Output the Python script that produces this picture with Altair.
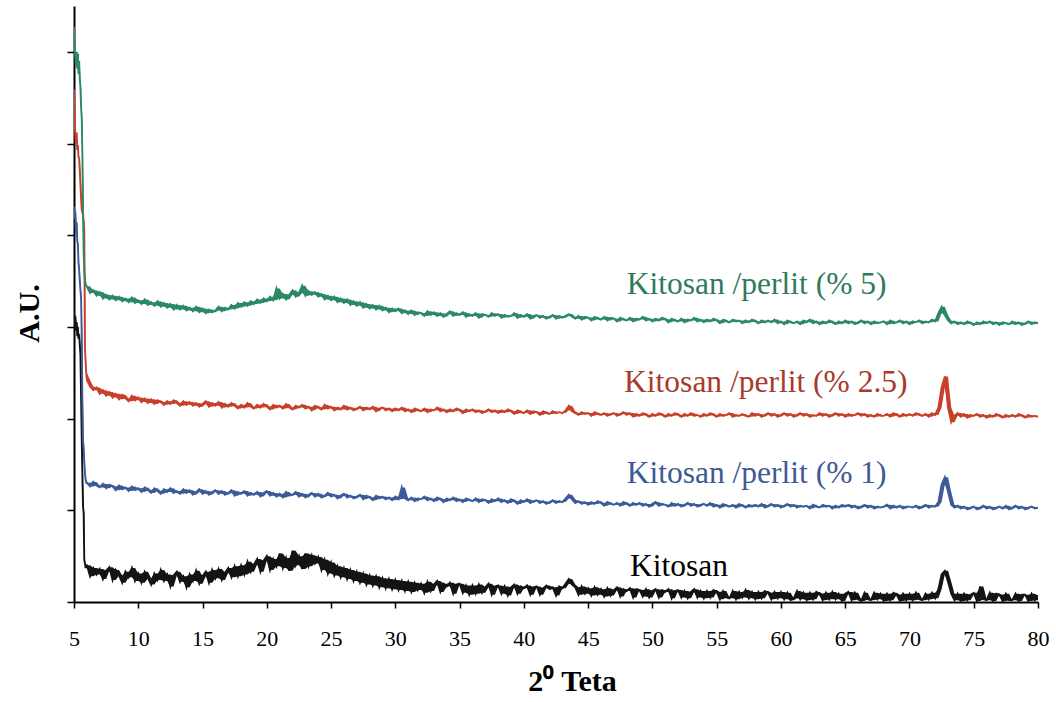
import altair as alt
import numpy as np
import pandas as pd

# Diffraction angle grid: a fine run over the low-angle peak, then 0.25 deg steps
HEAD_X = [5.00, 5.05, 5.10, 5.15, 5.20, 5.25, 5.30, 5.35, 5.40, 5.45,
          5.50, 5.55, 5.60, 5.65, 5.70, 5.75, 5.80, 5.85, 5.90, 5.95]
BODY_X = list(np.round(np.arange(6.0, 80.0001, 0.25), 2))

# Intensities (A.U.) of each pattern, before the vertical offset
KITOSAN_HEAD = [318, 300, 312, 296, 305, 290, 300, 287, 292, 280,
                270, 225, 180, 140, 105, 97, 46, 42, 37, 40]
KITOSAN_BODY = [
    40, 28, 37, 30,  36, 25, 34, 38,  24, 35, 29, 21,  33, 27, 37, 23,
    31, 21, 33, 26,  19, 31, 24, 35,  23, 30, 17, 29,  33, 22, 28, 16,
    30, 23, 34, 20,  28, 33, 21, 35,  26, 36, 24, 32,  37, 27, 39, 28,
    40, 30, 44, 33,  41, 47, 33, 45,  50, 35, 47, 39,  53, 37, 48, 34,
    56, 40, 50, 36,  53, 39, 51, 42,  49, 35, 46, 31,  43, 29, 39, 27,
    37, 25, 35, 23,  33, 21, 31, 19,  29, 18, 28, 16,  26, 15, 25, 14,
    24, 13, 23, 12,  22, 11, 21, 13,  20, 10, 22, 12,  19, 23, 11, 20,
    17, 21, 9, 19,   20, 10, 18, 8,   18, 9, 19, 10,   16, 20, 8, 17,
    18, 9, 17, 7,    16, 19, 9, 17,   15, 18, 8, 16,   17, 8, 15, 18,
    14, 16, 7, 17,   15, 20, 25, 19,  16, 8, 17, 9,    15, 7, 16, 8,
    14, 6, 15, 7,    13, 16, 6, 14,   12, 15, 5, 14,   13, 6, 14, 5,
    12, 14, 5, 13,   11, 14, 4, 12,   13, 5, 12, 4,    11, 14, 5, 12,
    4, 12, 5, 13,    11, 3, 12, 5,    4, 12, 3, 11,    5, 13, 4, 11,
    3, 11, 4, 12,    10, 3, 11, 4,    11, 3, 10, 2,    4, 12, 3, 10,
    2, 10, 3, 11,    9, 2, 10, 3,     11, 3, 9, 1,     9, 11, 2, 10,
    3, 1, 10, 3,     2, 10, 3, 9,     1, 9, 2, 10,     8, 1, 9, 2,
    9, 2, 10, 3,     2, 9, 3, 10,     4, 14, 30, 34,   22, 9, 2, 9,
    1, 9, 2, 8,      10, 1, 17, 3,    2, 10, 1, 9,     8, 1, 9, 2,
    2, 9, 1, 8,      8, 1, 9, 2,
    7,
]

PERLIT1_HEAD = [331, 318, 326, 302, 314, 294, 290, 270, 262, 250,
                240, 232, 190, 120, 77, 68, 52, 40, 34, 30]
PERLIT1_BODY = [
    30, 26, 31, 27,  25, 29, 24, 28,  26, 22, 27, 23,  25, 21, 26, 22,
    24, 20, 25, 22,  19, 24, 21, 18,  23, 20, 24, 19,  21, 18, 23, 19,
    22, 17, 20, 23,  18, 21, 17, 20,  22, 18, 21, 17,  19, 22, 16, 20,
    18, 21, 16, 19,  17, 20, 15, 19,  21, 16, 19, 15,  18, 14, 20, 16,
    17, 20, 15, 18,  14, 17, 19, 15,  18, 14, 16, 19,  15, 17, 13, 16,
    18, 14, 16, 13,  15, 17, 12, 16,  14, 11, 16, 13,  15, 12, 14, 11,
    15, 12, 25, 13,  11, 14, 10, 13,  12, 15, 11, 13,  10, 14, 12, 9,
    13, 11, 14, 10,  12, 9, 13, 11,   10, 13, 9, 12,   11, 8, 12, 10,
    13, 9, 11, 8,    12, 10, 7, 11,   9, 12, 8, 10,    11, 8, 10, 7,
    9, 11, 8, 10,    9, 13, 17, 12,   8, 10, 7, 9,     6, 9, 7, 10,
    8, 5, 9, 7,      6, 8, 5, 9,      7, 5, 8, 6,      8, 5, 7, 4,
    7, 9, 5, 7,      6, 4, 8, 5,      7, 4, 6, 8,      5, 7, 4, 6,
    7, 5, 8, 4,      6, 3, 7, 5,      4, 6, 3, 7,      5, 3, 6, 4,
    6, 4, 7, 3,      5, 7, 4, 6,      3, 5, 7, 4,      6, 3, 5, 4,
    5, 2, 6, 4,      3, 6, 4, 5,      2, 5, 3, 6,      4, 6, 3, 5,
    2, 4, 6, 3,      5, 2, 4, 3,      4, 6, 2, 5,      3, 5, 2, 4,
    4, 3, 5, 2,      4, 6, 3, 5,      4, 9, 28, 36,    20, 6, 3, 5,
    2, 4, 1, 3,      4, 1, 3, 5,      2, 4, 1, 3,      4, 2, 5, 1,
    3, 5, 2, 4,      1, 3, 4, 2,
    3,
]

PERLIT25_HEAD = [359, 318, 310, 300, 312, 293, 298, 285, 284, 270,
                 255, 240, 228, 225, 222, 215, 205, 78, 62, 50]
PERLIT25_BODY = [
    42, 35, 31, 34,  27, 31, 25, 29,  23, 27, 21, 26,  22, 19, 25, 20,
    23, 18, 22, 17,  21, 16, 20, 18,  15, 19, 16, 20,  17, 14, 19, 15,
    18, 14, 17, 13,  16, 19, 13, 17,  14, 18, 12, 16,  13, 17, 14, 11,
    15, 12, 17, 13,  11, 15, 12, 16,  13, 10, 15, 12,  14, 11, 16, 12,
    10, 14, 12, 15,  11, 13, 9, 14,   12, 10, 15, 11,  13, 9, 12, 10,
    14, 10, 12, 9,   11, 13, 9, 12,   10, 13, 8, 11,   12, 9, 11, 8,
    11, 9, 12, 8,    10, 7, 11, 9,    8, 11, 7, 10,    9, 12, 8, 10,
    7, 10, 8, 11,    9, 6, 10, 8,     10, 7, 9, 6,     8, 10, 7, 9,
    6, 9, 7, 10,     8, 5, 9, 7,      6, 9, 5, 8,      7, 4, 8, 6,
    5, 8, 6, 7,      6, 9, 14, 8,     6, 4, 7, 5,      6, 3, 7, 5,
    4, 6, 3, 5,      6, 3, 5, 7,      4, 6, 2, 5,      3, 6, 4, 2,
    5, 3, 6, 4,      2, 5, 3, 6,      4, 2, 5, 3,      6, 3, 4, 2,
    5, 3, 6, 4,      2, 5, 3, 4,      6, 2, 4, 3,      5, 3, 2, 6,
    3, 5, 2, 4,      6, 3, 5, 2,      4, 6, 3, 5,      2, 4, 6, 3,
    5, 2, 4, 3,      6, 3, 5, 2,      4, 6, 3, 5,      2, 5, 3, 4,
    6, 3, 5, 2,      4, 2, 5, 3,      3, 5, 2, 6,      4, 2, 5, 3,
    5, 3, 6, 4,      3, 5, 2, 6,      4, 12, 34, 46,   12, -4, 3, 6,
    2, 5, 1, 4,      3, 5, 2, 4,      1, 4, 2, 5,      3, 1, 4, 2,
    4, 2, 5, 3,      1, 4, 2, 3,
    2,
]

PERLIT5_HEAD = [327, 300, 295, 285, 300, 282, 298, 276, 290, 270,
                262, 240, 228, 190, 130, 81, 62, 51, 47, 45]
PERLIT5_BODY = [
    44, 37, 40, 34,  38, 31, 35, 30,  34, 29, 33, 28,  31, 27, 32, 26,
    29, 25, 30, 24,  27, 23, 28, 22,  26, 21, 25, 19,  24, 19, 23, 18,
    21, 17, 22, 16,  20, 15, 19, 16,  18, 22, 17, 21,  19, 24, 20, 26,
    22, 27, 23, 28,  25, 30, 26, 31,  28, 33, 29, 42,  31, 36, 30, 35,
    40, 33, 37, 45,  34, 39, 35, 38,  33, 36, 30, 34,  29, 33, 27, 31,
    26, 30, 24, 28,  23, 27, 21, 25,  20, 24, 19, 23,  18, 21, 16, 20,
    17, 20, 15, 18,  14, 18, 13, 16,  15, 12, 17, 13,  16, 12, 15, 11,
    14, 17, 12, 15,  13, 16, 11, 14,  12, 15, 10, 14,  13, 11, 15, 12,
    14, 10, 13, 11,  12, 15, 10, 13,  11, 14, 9, 12,   13, 10, 12, 9,
    11, 13, 9, 12,   10, 12, 14, 11,  9, 12, 8, 11,    10, 7, 11, 9,
    8, 11, 7, 10,    9, 6, 10, 8,     7, 10, 6, 9,     8, 11, 7, 9,
    6, 9, 7, 10,     8, 5, 9, 7,      6, 9, 5, 8,      7, 10, 6, 8,
    5, 8, 6, 9,      7, 4, 8, 6,      5, 8, 6, 7,      4, 7, 5, 8,
    6, 4, 7, 5,      7, 5, 8, 4,      6, 3, 7, 5,      4, 6, 3, 7,
    5, 8, 4, 6,      3, 6, 4, 7,      5, 3, 6, 4,      7, 4, 6, 3,
    5, 7, 4, 6,      3, 6, 4, 5,      6, 3, 7, 4,      5, 7, 4, 6,
    3, 6, 5, 7,      4, 6, 5, 8,      6, 15, 22, 13,   7, 4, 6, 3,
    5, 3, 6, 4,      2, 5, 3, 6,      4, 6, 3, 5,      2, 5, 4, 3,
    6, 3, 5, 2,      4, 6, 3, 5,
    4,
]

SERIES = ["Kitosan", "Kitosan /perlit (% 1)", "Kitosan /perlit (% 2.5)", "Kitosan /perlit (% 5)"]
OFFSETS = [0, 100, 200, 300]
LINE_COLORS = ["#141414", "#3b5b9b", "#c8402b", "#2b8a64"]
TEXT_COLORS = ["#000000", "#3d5a94", "#a83a2b", "#2f7b5c"]
LINE_WIDTHS = [2.0, 1.9, 1.9, 1.9]

PATTERNS = [
    (KITOSAN_HEAD, KITOSAN_BODY),
    (PERLIT1_HEAD, PERLIT1_BODY),
    (PERLIT25_HEAD, PERLIT25_BODY),
    (PERLIT5_HEAD, PERLIT5_BODY),
]

frames = []
for name, off, (head, body) in zip(SERIES, OFFSETS, PATTERNS):
    assert len(head) == len(HEAD_X), name
    assert len(body) == len(BODY_X), (name, len(body), len(BODY_X))
    xs = HEAD_X + BODY_X
    vals = head + body
    frames.append(pd.DataFrame({
        "theta": xs,
        "au": [v + off for v in vals],
        "series": name,
    }))
df = pd.concat(frames, ignore_index=True)

SERIF = "Liberation Serif"

x_axis = alt.Axis(
    values=list(range(5, 81, 5)), grid=False,
    labelFont=SERIF, labelFontSize=22, labelColor="black",
    labelBaseline="alphabetic", labelPadding=37, labelFlush=False,
    tickSize=6, tickWidth=1.5, tickColor="black",
    domainColor="black", domainWidth=2,
    title="2\u2070 Teta", titleFont=SERIF, titleFontSize=30,
    titleFontWeight="bold", titleColor="black",
    titleX=498, titleY=88, titleAlign="center", titleBaseline="alphabetic",
)
y_axis = alt.Axis(
    values=list(range(0, 601, 100)), grid=False, labels=False,
    tickSize=7, tickWidth=1.5, tickColor="black",
    domainColor="black", domainWidth=2,
    title="A.U.", titleFont=SERIF, titleFontSize=30,
    titleFontWeight="bold", titleColor="black",
    titleAngle=270, titleX=-36, titleY=307,
    titleAlign="center", titleBaseline="alphabetic",
)

x_enc = alt.X("theta:Q", scale=alt.Scale(domain=[5, 80], nice=False, zero=False), axis=x_axis)
y_scale = alt.Scale(domain=[0, 650], nice=False)
color_enc = alt.Color("series:N", scale=alt.Scale(domain=SERIES[::-1], range=LINE_COLORS[::-1]), legend=None)

# Scatter envelope of each scan: min/max of each pair of neighbouring steps
band = alt.Chart(df).transform_window(
    hi="max(au)", lo="min(au)", frame=[-1, 0],
    groupby=["series"], sort=[alt.SortField("theta")],
).mark_area(interpolate="linear", clip=True).encode(
    x=x_enc,
    y=alt.Y("hi:Q", scale=y_scale, axis=y_axis),
    y2="lo:Q",
    color=color_enc,
)

lines = alt.Chart(df).mark_line(interpolate="linear", clip=True).encode(
    x=x_enc,
    y=alt.Y("au:Q", scale=y_scale, axis=y_axis),
    color=color_enc,
    strokeWidth=alt.StrokeWidth("series:N", scale=alt.Scale(domain=SERIES[::-1], range=LINE_WIDTHS[::-1]), legend=None),
)

# Pattern names, placed in data coordinates beside each trace
LABEL_AT = {
    "Kitosan /perlit (% 5)": (48.0, 336),
    "Kitosan /perlit (% 2.5)": (47.8, 229),
    "Kitosan /perlit (% 1)": (48.0, 130),
    "Kitosan": (48.25, 28),
}
texts = []
for name, col in zip(SERIES, TEXT_COLORS):
    lx, ly = LABEL_AT[name]
    texts.append(
        alt.Chart(pd.DataFrame({"label": [name]})).mark_text(
            font=SERIF, fontSize=31.5, align="left", baseline="alphabetic", color=col,
        ).encode(x=alt.datum(lx), y=alt.datum(ly), text="label:N")
    )

chart = alt.layer(band, lines, *texts).properties(
    width=964, height=596,
    padding={"left": 74, "top": 6, "right": 18, "bottom": 100},
    autosize=alt.AutoSizeParams(type="none"),
    background="white",
).configure_view(stroke=None)

chart.save("out.html", embed_options={"renderer": "svg", "actions": False})
